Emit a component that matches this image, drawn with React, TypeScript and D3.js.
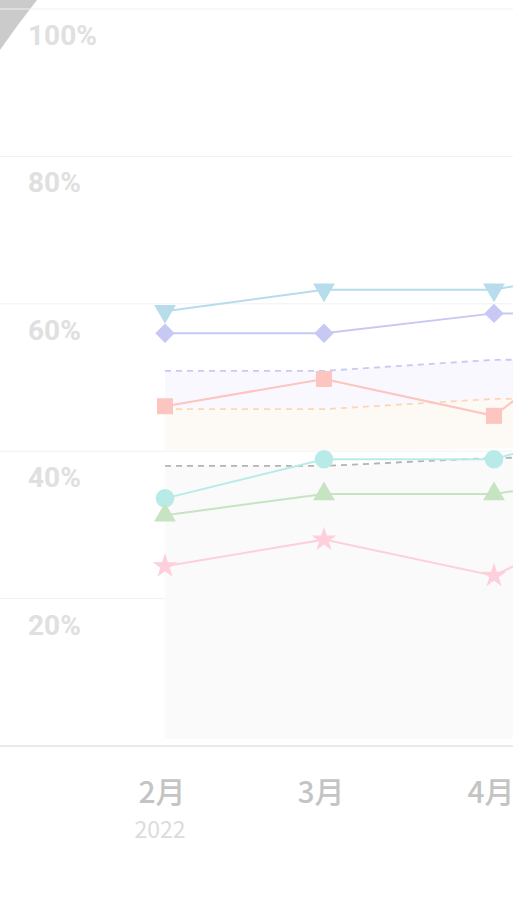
import React, { useEffect, useRef } from "react";
import * as d3 from "d3";

const months = ["2022-02-01", "2022-03-01", "2022-04-01", "2022-05-01"];
const monthLabels = ["2月", "3月", "4月", "5月"];
const yearLabels = ["2022", "", "", ""];
const yTicks = [20, 40, 60, 80, 100];

const seriesBlue = [59.0, 61.9, 61.9, 66.0];
const seriesLavender = [56.0, 56.0, 58.7, 58.7];
const seriesSalmon = [46.1, 49.8, 44.8, 62.0];
const seriesTeal = [33.6, 38.9, 38.9, 45.5];
const seriesGreen = [31.3, 34.2, 34.2, 37.5];
const seriesPink = [24.4, 28.0, 23.1, 34.0];

const refLavender = [50.9, 50.9, 52.4, 52.5];
const refOrange = [45.7, 45.7, 47.1, 47.2];
const refGrey = [38.0, 38.0, 39.1, 39.2];
const bandOrangeLow = [40.1, 40.1, 40.4, 40.4];
const bandGreyLow = [1.0, 1.0, 1.0, 1.0];

export default function App() {
  const ref = useRef<SVGSVGElement>(null);
  useEffect(() => {
    document.body.style.margin = "0";
    const svg = d3.select(ref.current);
    svg.selectAll("*").remove();
    const W = 513, H = 899;
    const dates = months.map((m) => new Date(m + "T00:00:00"));
    const x = d3.scaleTime()
      .domain([dates[0], dates[1], dates[2]])
      .range([165, 324, 494]);
    const y = d3.scaleLinear().domain([0, 100]).range([746, 9]);

    // top-left corner triangle
    svg.append("path")
      .attr("d", "M0,0 L37,0 Q18,24 0,50 Z")
      .attr("fill", "#cbcbcb");

    // gridlines
    svg.append("g").selectAll("line").data(yTicks).join("line")
      .attr("x1", 0).attr("x2", W)
      .attr("y1", (d) => y(d)).attr("y2", (d) => y(d))
      .attr("stroke", "#f1f1f1").attr("stroke-width", 1);

    svg.append("g").selectAll("text").data(yTicks).join("text")
      .attr("x", 28).attr("y", (d) => y(d) + 36)
      .attr("font-family", "Roboto, 'Noto Sans', sans-serif")
      .attr("font-weight", "bold")
      .attr("font-size", 28)
      .attr("fill", "#e0e0e0")
      .text((d) => d + "%");

    const idx = d3.range(dates.length);
    const band = (hi: number[], lo: number[], fill: string) => {
      const a = d3.area<number>()
        .x((i) => x(dates[i]))
        .y0((i) => y(lo[i]))
        .y1((i) => y(hi[i]));
      svg.append("path").attr("d", a(idx)!).attr("fill", fill);
    };
    band(refLavender, refOrange, "#f9f8fe");
    band(refOrange, bandOrangeLow, "#fdf9f5");
    band(refGrey, bandGreyLow, "#fafafa");

    const line = d3.line<number>().x((_, i) => x(dates[i])).y((v) => y(v));
    const dashed = (vals: number[], color: string) => {
      svg.append("path").attr("d", line(vals)!)
        .attr("fill", "none").attr("stroke", color)
        .attr("stroke-width", 1.8).attr("stroke-dasharray", "6,5");
    };
    dashed(refLavender, "#c9c9f5");
    dashed(refOrange, "#fdd6b6");
    dashed(refGrey, "#b3b3b3");

    const series: [number[], string, d3.SymbolType, number, number][] = [
      [seriesBlue, "#b7dcec", d3.symbolTriangle, 205, 180],
      [seriesLavender, "#c8c8f4", d3.symbolDiamond2, 240, 0],
      [seriesSalmon, "#fcc5bf", d3.symbolSquare, 256, 0],
      [seriesTeal, "#b8ebe8", d3.symbolCircle, 270, 0],
      [seriesGreen, "#c6e4c2", d3.symbolTriangle, 205, 0],
      [seriesPink, "#fdd0dc", d3.symbolStar, 190, 0],
    ];
    series.forEach(([vals, color, sym, size, rot]) => {
      svg.append("path").attr("d", line(vals)!)
        .attr("fill", "none").attr("stroke", color).attr("stroke-width", 2);
      const shape = d3.symbol().type(sym).size(size)();
      svg.append("g").selectAll("path").data(vals).join("path")
        .attr("d", shape)
        .attr("transform", (v, i) => `translate(${x(dates[i])},${y(v)}) rotate(${rot})`)
        .attr("fill", color);
    });

    // axis line
    svg.append("line").attr("x1", 0).attr("x2", W)
      .attr("y1", 746).attr("y2", 746)
      .attr("stroke", "#e3e3e3").attr("stroke-width", 1.5);

    svg.append("g").selectAll("text").data(idx).join("text")
      .attr("x", (i) => x(dates[i]) - 3).attr("y", 803)
      .attr("text-anchor", "middle")
      .attr("font-family", "'Noto Sans CJK SC', 'Noto Sans', sans-serif")
      .attr("font-weight", 500)
      .attr("font-size", 30)
      .attr("fill", "#c4c4c4")
      .text((i) => monthLabels[i]);
    svg.append("g").selectAll("text").data(idx).join("text")
      .attr("x", (i) => x(dates[i]) - 5).attr("y", 838)
      .attr("text-anchor", "middle")
      .attr("font-family", "'Noto Sans CJK SC', 'Noto Sans', sans-serif")
      .attr("font-size", 23)
      .attr("fill", "#dcdcdc")
      .text((i) => yearLabels[i]);
    svg.attr("width", W).attr("height", H);
  }, []);
  return (
    <svg ref={ref} width={513} height={899}
      style={{ position: "absolute", left: 0, top: 0, display: "block" }} />
  );
}
